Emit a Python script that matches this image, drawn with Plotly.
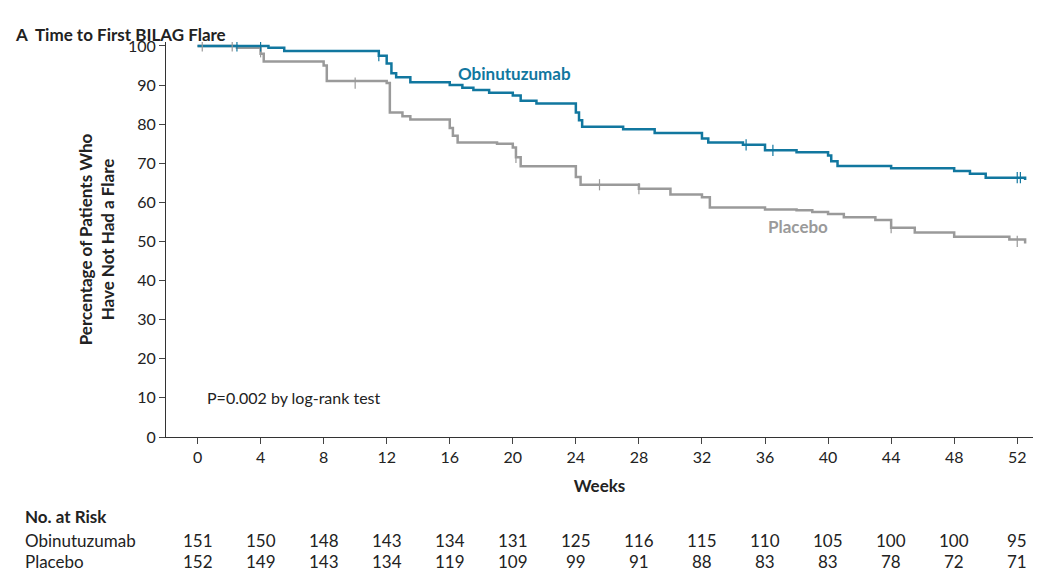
import plotly.graph_objects as go

# Kaplan-Meier steps (weeks, % without flare)
obi_weeks = [0, 4.5, 5.5, 11.5, 12.0, 12.3, 12.6, 13.5, 16.0, 16.8, 17.5, 18.5, 20.0, 20.5, 21.5, 24.0, 24.2, 24.4,
             27.0, 29.0, 32.0, 32.4, 34.6, 36.0, 38.0, 40.0, 40.2, 40.6, 44.0, 48.0, 49.0, 50.0, 52.5]
obi_surv = [100, 99.5, 98.7, 97.5, 95.5, 93.0, 92.0, 90.7, 90.0, 89.3, 88.7, 88.0, 87.3, 86.0, 85.3, 83.0, 81.0, 79.3,
            78.7, 77.7, 76.3, 75.3, 74.7, 73.3, 72.8, 72.0, 70.5, 69.3, 68.7, 68.0, 67.3, 66.3, 65.7]
obi_cens_w = [2.5, 4.0, 11.5, 34.8, 36.5, 52.0, 52.2]
obi_cens_s = [100, 100, 97.5, 74.7, 73.3, 66.3, 66.3]

pbo_weeks = [0, 2.5, 4.0, 4.2, 8.0, 8.2, 12.0, 12.2, 13.0, 13.5, 16.0, 16.2, 16.5, 19.0, 20.0, 20.2, 20.5, 24.0, 24.3,
             28.0, 30.0, 32.0, 32.5, 36.0, 38.0, 39.0, 40.0, 41.0, 43.0, 44.0, 45.5, 48.0, 51.5, 52.5]
pbo_surv = [100, 99.5, 98.0, 96.0, 95.0, 91.0, 90.5, 83.0, 82.0, 81.2, 79.0, 77.0, 75.3, 75.0, 74.0, 71.5, 69.2, 66.5, 64.5,
            63.5, 62.0, 61.3, 58.7, 58.2, 58.0, 57.5, 57.0, 56.2, 55.5, 53.5, 52.3, 51.2, 50.5, 49.5]
pbo_cens_w = [0.3, 2.2, 4.0, 10.0, 20.2, 25.5, 28.0, 44.0, 52.0]
pbo_cens_s = [100, 100, 98.5, 90.5, 71.5, 64.5, 63.5, 53.5, 50.0]

weeks_ticks = list(range(0, 53, 4))
risk_obi = [151, 150, 148, 143, 134, 131, 125, 116, 115, 110, 105, 100, 100, 95]
risk_pbo = [152, 149, 143, 134, 119, 109, 99, 91, 88, 83, 83, 78, 72, 71]

BLUE = "#11779f"
GREY = "#9a9a9a"
FONT = "Lato"
LX = -0.165

fig = go.Figure()
for w, s, c in [(pbo_weeks, pbo_surv, GREY), (obi_weeks, obi_surv, BLUE)]:
    fig.add_trace(go.Scatter(x=w, y=s, mode="lines", line=dict(color=c, width=2.5, shape="hv")))
for w, s, c in [(pbo_cens_w, pbo_cens_s, GREY), (obi_cens_w, obi_cens_s, BLUE)]:
    fig.add_trace(go.Scatter(x=w, y=s, mode="markers",
                             marker=dict(symbol="line-ns", size=8, line=dict(color=c, width=1.2))))

fig.add_annotation(x=20.1, y=93, text="<b>Obinutuzumab</b>", showarrow=False,
                   font=dict(color=BLUE, size=17, family=FONT))
fig.add_annotation(x=38.1, y=53.8, text="<b>Placebo</b>", showarrow=False,
                   font=dict(color=GREY, size=17, family=FONT))
fig.add_annotation(x=0.5, y=10, text="P=0.002 by log-rank test", showarrow=False, xanchor="left",
                   font=dict(color="#222", size=16, family=FONT))

# title and number-at-risk table
fig.add_annotation(xref="paper", yref="paper", x=-0.176, y=1.05, xanchor="left",
                   text="<b>A  Time to First BILAG Flare</b>", showarrow=False,
                   font=dict(size=17, family=FONT, color="#222"))
fig.add_annotation(xref="paper", yref="paper", x=LX, y=-0.233, xanchor="left",
                   text="<b>No. at Risk</b>", showarrow=False, font=dict(size=17, family=FONT, color="#222"))
for label, vals, yy in [("Obinutuzumab", risk_obi, -0.294), ("Placebo", risk_pbo, -0.347)]:
    fig.add_annotation(xref="paper", yref="paper", x=LX, y=yy, xanchor="left", text=label,
                       showarrow=False, font=dict(size=17, family=FONT, color="#222"))
    for wk, v in zip(weeks_ticks, vals):
        fig.add_annotation(x=wk, xref="x", yref="paper", y=yy, text=str(v), showarrow=False,
                           font=dict(size=17, family=FONT, color="#222"))

fig.update_layout(
    width=1054, height=576, plot_bgcolor="white", paper_bgcolor="white", showlegend=False,
    margin=dict(l=158, r=29, t=34, b=147),
    font=dict(family=FONT, size=16, color="#222"),
    xaxis=dict(range=[-2, 53], tickvals=weeks_ticks, ticks="outside", ticklen=6, showline=True,
               linecolor="#333", showgrid=False, zeroline=False,
               title=dict(text="<b>Weeks</b>", font=dict(size=17), standoff=14)),
    yaxis=dict(range=[0, 101], tickvals=list(range(0, 101, 10)), ticks="outside", ticklen=6,
               showline=True, linecolor="#333", showgrid=False, zeroline=False,
               title=dict(text="<b>Percentage of Patients Who<br>Have Not Had a Flare</b>",
                          font=dict(size=17), standoff=8)),
)

fig.write_html("out.html")
